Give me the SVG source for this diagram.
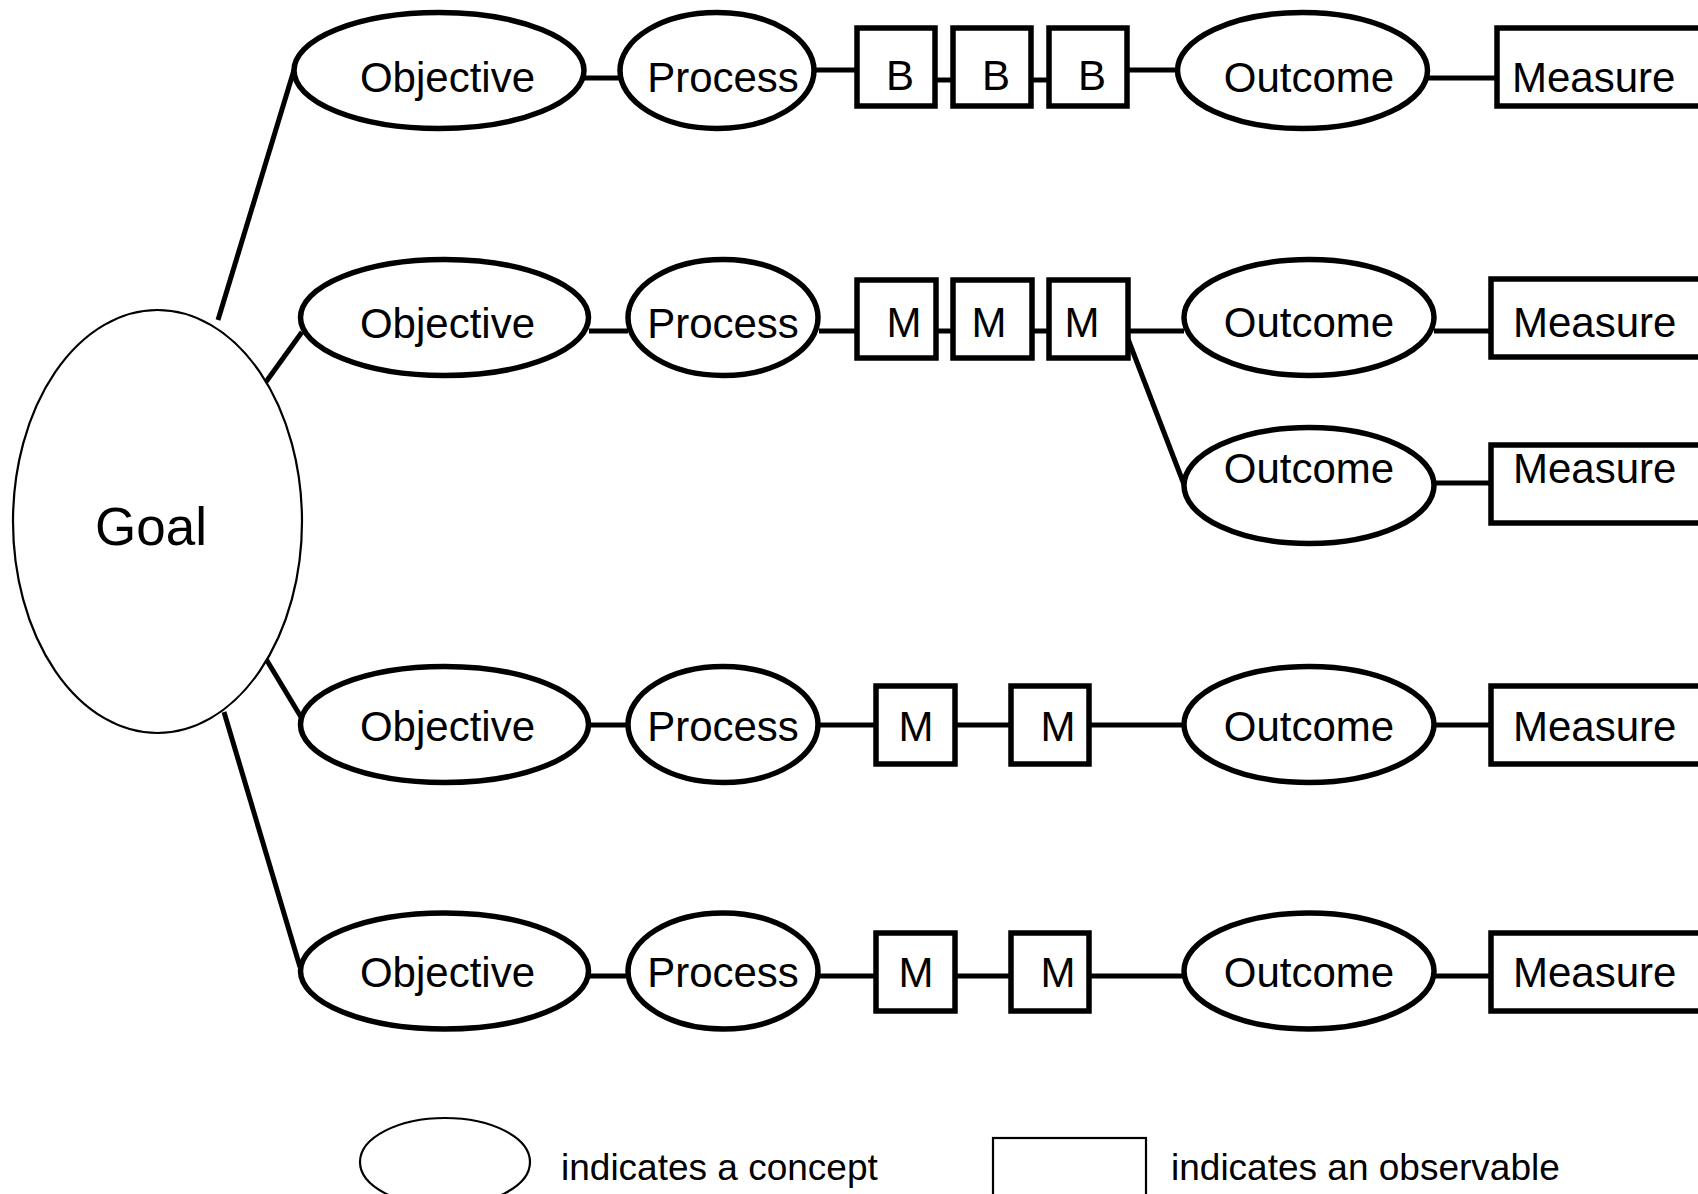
<svg xmlns="http://www.w3.org/2000/svg" width="1698" height="1194" viewBox="0 0 1698 1194">
<style>
.n{fill:#fff;stroke:#000;stroke-width:5.5}
.t{font-family:"Liberation Sans",Arial,sans-serif;font-size:42px;fill:#000}
.c{text-anchor:middle}
.e{stroke:#000;stroke-width:5;fill:none}
.thin{fill:#fff;stroke:#000;stroke-width:2.2}
.lg{font-family:"Liberation Sans",Arial,sans-serif;font-size:37px;fill:#000}
</style>
<rect width="1698" height="1194" fill="#fff"/>
<g id="connectors">
<line class="e" x1="218" y1="320" x2="294" y2="70"/>
<line class="e" x1="263" y1="386" x2="302" y2="332"/>
<line class="e" x1="263" y1="654" x2="301" y2="717"/>
<line class="e" x1="224" y1="712" x2="300" y2="967"/>
<line class="e" x1="584" y1="78" x2="620" y2="78"/>
<line class="e" x1="814" y1="70" x2="857" y2="70"/>
<line class="e" x1="935" y1="80" x2="953" y2="80"/>
<line class="e" x1="1031" y1="80" x2="1049" y2="80"/>
<line class="e" x1="1127" y1="70" x2="1178" y2="70"/>
<line class="e" x1="1427" y1="78" x2="1497" y2="78"/>
<line class="e" x1="589" y1="331" x2="628" y2="331"/>
<line class="e" x1="819" y1="331" x2="857" y2="331"/>
<line class="e" x1="936" y1="331" x2="953" y2="331"/>
<line class="e" x1="1032" y1="331" x2="1049" y2="331"/>
<line class="e" x1="1128" y1="331" x2="1184" y2="331"/>
<line class="e" x1="1434" y1="331" x2="1491" y2="331"/>
<line class="e" stroke-width="3.5" x1="1128" y1="339" x2="1185" y2="487"/>
<line class="e" x1="1435" y1="483" x2="1491" y2="483"/>
<line class="e" x1="589" y1="725" x2="628" y2="725"/>
<line class="e" x1="817" y1="725" x2="876" y2="725"/>
<line class="e" x1="955" y1="725" x2="1011" y2="725"/>
<line class="e" x1="1089" y1="725" x2="1184" y2="725"/>
<line class="e" x1="1434" y1="725" x2="1491" y2="725"/>
<line class="e" x1="589" y1="976" x2="628" y2="976"/>
<line class="e" x1="817" y1="976" x2="876" y2="976"/>
<line class="e" x1="955" y1="976" x2="1011" y2="976"/>
<line class="e" x1="1089" y1="976" x2="1184" y2="976"/>
<line class="e" x1="1434" y1="976" x2="1491" y2="976"/>
</g>
<g id="goal"><ellipse class="thin" cx="157.5" cy="521.5" rx="144.5" ry="211.5"/><text class="t c" x="151" y="545" style="font-size:53px">Goal</text></g>
<!-- Row 1 -->
<g id="obj1"><ellipse class="n" cx="439" cy="70.5" rx="145" ry="58"/><text class="t c" x="447.5" y="92">Objective</text></g>
<g id="proc1"><ellipse class="n" cx="717" cy="70.5" rx="97" ry="58"/><text class="t c" x="723" y="92">Process</text></g>
<g id="b1"><rect class="n" x="857" y="28" width="78" height="78"/><text class="t c" x="900" y="90">B</text></g>
<g id="b2"><rect class="n" x="953" y="28" width="78" height="78"/><text class="t c" x="996" y="90">B</text></g>
<g id="b3"><rect class="n" x="1049" y="28" width="78" height="78"/><text class="t c" x="1092" y="90">B</text></g>
<g id="out1"><ellipse class="n" cx="1302.5" cy="70.5" rx="125" ry="58"/><text class="t c" x="1309" y="92">Outcome</text></g>
<g id="meas1"><rect class="n" x="1497" y="28" width="260" height="78"/><text class="t" x="1512" y="92">Measure</text></g>
<!-- Row 2 -->
<g id="obj2"><ellipse class="n" cx="444.5" cy="317.5" rx="144" ry="58"/><text class="t c" x="447.5" y="338">Objective</text></g>
<g id="proc2"><ellipse class="n" cx="723" cy="317.5" rx="95" ry="58"/><text class="t c" x="723" y="338">Process</text></g>
<g id="m21"><rect class="n" x="857" y="280" width="79" height="78"/><text class="t c" x="904" y="337">M</text></g>
<g id="m22"><rect class="n" x="953" y="280" width="79" height="78"/><text class="t c" x="989" y="337">M</text></g>
<g id="m23"><rect class="n" x="1049" y="280" width="79" height="78"/><text class="t c" x="1082" y="337">M</text></g>
<g id="out2"><ellipse class="n" cx="1309" cy="317.5" rx="125" ry="58"/><text class="t c" x="1309" y="337">Outcome</text></g>
<g id="meas2"><rect class="n" x="1491" y="279" width="260" height="78"/><text class="t" x="1513" y="337">Measure</text></g>
<!-- Row 3 -->
<g id="out3"><ellipse class="n" cx="1309" cy="485.5" rx="125" ry="58"/><text class="t c" x="1309" y="483">Outcome</text></g>
<g id="meas3"><rect class="n" x="1491" y="445" width="260" height="78"/><text class="t" x="1513" y="483">Measure</text></g>
<!-- Row 4 -->
<g id="obj4"><ellipse class="n" cx="444.5" cy="724.5" rx="144" ry="58"/><text class="t c" x="447.5" y="741">Objective</text></g>
<g id="proc4"><ellipse class="n" cx="723" cy="724.5" rx="95" ry="58"/><text class="t c" x="723" y="741">Process</text></g>
<g id="m41"><rect class="n" x="876" y="686" width="79" height="78"/><text class="t c" x="916" y="741">M</text></g>
<g id="m42"><rect class="n" x="1011" y="686" width="78" height="78"/><text class="t c" x="1058" y="741">M</text></g>
<g id="out4"><ellipse class="n" cx="1309" cy="724.5" rx="125" ry="58"/><text class="t c" x="1309" y="741">Outcome</text></g>
<g id="meas4"><rect class="n" x="1491" y="686" width="260" height="78"/><text class="t" x="1513" y="741">Measure</text></g>
<!-- Row 5 -->
<g id="obj5"><ellipse class="n" cx="444.5" cy="971" rx="144" ry="58"/><text class="t c" x="447.5" y="987">Objective</text></g>
<g id="proc5"><ellipse class="n" cx="723" cy="971" rx="95" ry="58"/><text class="t c" x="723" y="987">Process</text></g>
<g id="m51"><rect class="n" x="876" y="933" width="79" height="78"/><text class="t c" x="916" y="987">M</text></g>
<g id="m52"><rect class="n" x="1011" y="933" width="78" height="78"/><text class="t c" x="1058" y="987">M</text></g>
<g id="out5"><ellipse class="n" cx="1309" cy="971" rx="125" ry="58"/><text class="t c" x="1309" y="987">Outcome</text></g>
<g id="meas5"><rect class="n" x="1491" y="933" width="260" height="78"/><text class="t" x="1513" y="987">Measure</text></g>
<!-- Legend -->
<g id="legend-concept"><ellipse class="thin" cx="445" cy="1162" rx="85" ry="44"/><text class="lg" x="561" y="1180">indicates a concept</text></g>
<g id="legend-observable"><rect class="thin" x="993" y="1138" width="153" height="80"/><text class="lg" x="1171" y="1180">indicates an observable</text></g>
</svg>
